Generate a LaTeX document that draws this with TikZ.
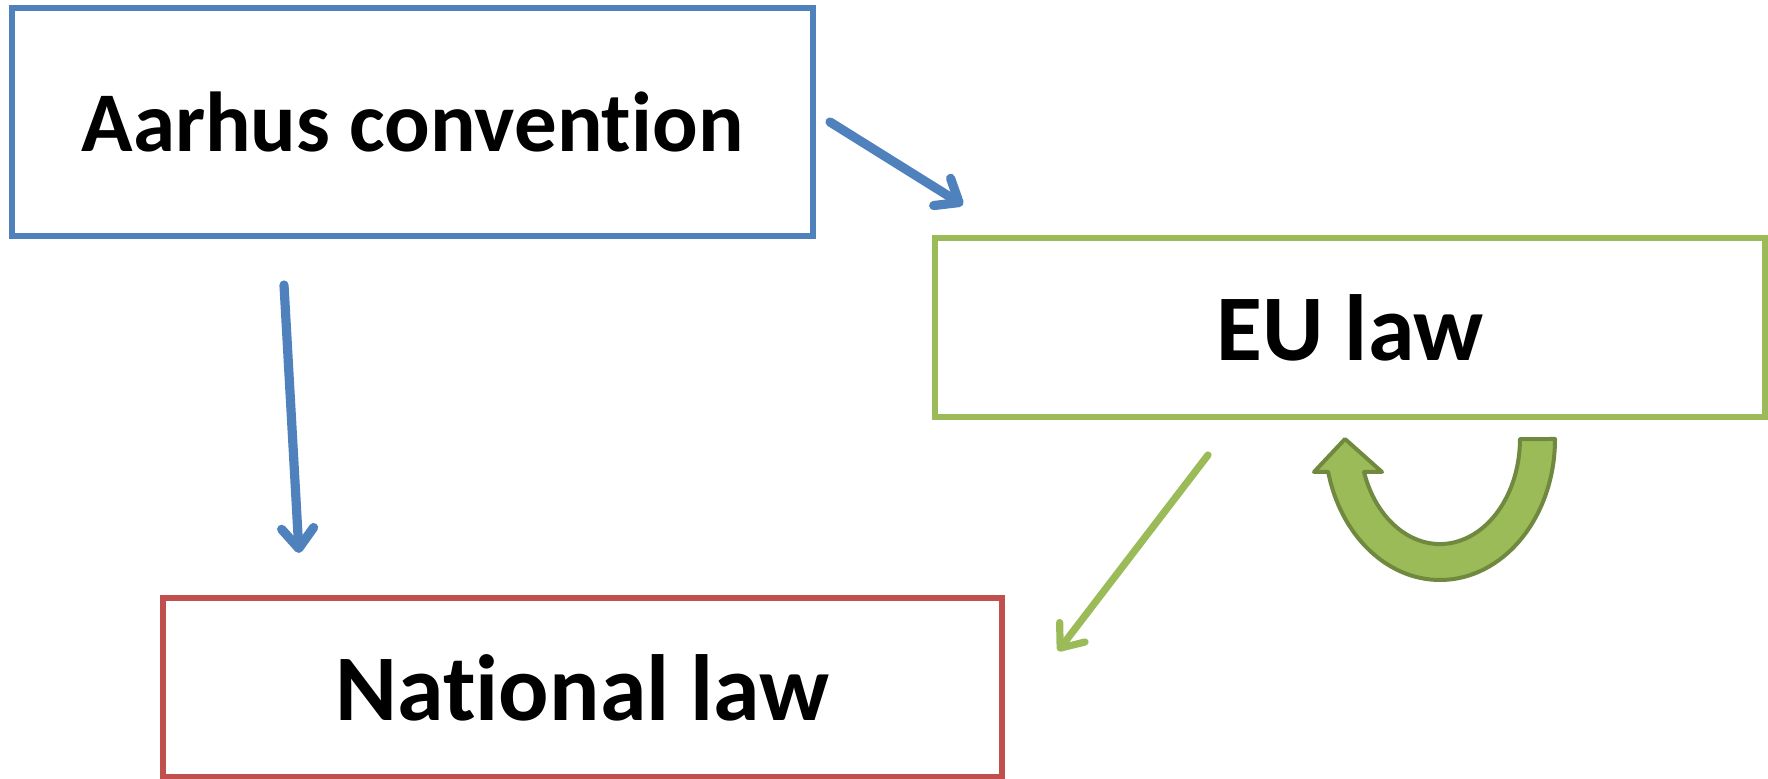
\documentclass[tikz,border=0pt]{standalone}
\usepackage{fontspec}
\setmainfont{Carlito}[Ligatures=NoCommon]
\usetikzlibrary{arrows.meta}
\definecolor{treatyblue}{HTML}{4F81BD}
\definecolor{eugreen}{HTML}{9BBB59}
\definecolor{eudark}{HTML}{71893F}
\definecolor{natred}{HTML}{C0504D}
\begin{document}
\begin{tikzpicture}[x=0.5pt,y=-0.5pt,
    lawbox/.style={draw, line width=2.6pt, minimum height=89.5pt,
      font=\fontsize{47}{56}\selectfont\bfseries},
    link/.style={line width=4.6pt, line cap=round,
      -{Straight Barb[length=10pt,width=16pt,round]}},
    loopback/.style={draw=eudark, fill=eugreen, line width=2pt, line join=round}]
    \useasboundingbox (0,0) rectangle (1768,779);

    \node[lawbox, draw=treatyblue, minimum width=400.5pt, minimum height=114pt,
      font=\fontsize{42.5}{51}\selectfont\bfseries] (aarhus) at (412.5,122) {Aarhus convention};
    \node[lawbox, draw=eugreen, minimum width=415pt] (eu) at (1350,327.5) {EU law};
    \node[lawbox, draw=natred, minimum width=419.5pt] (national) at (582.5,687.5) {National law};

    \coordinate (aarhus-eu-s) at (830,122);
    \coordinate (aarhus-eu-t) at (963,205);
    \coordinate (aarhus-nat-s) at (284,285);
    \coordinate (aarhus-nat-t) at (299,553);
    \coordinate (eu-nat-s) at (1208,455);
    \coordinate (eu-nat-t) at (1058,651);

    \draw[link, treatyblue] (aarhus-eu-s) to (aarhus-eu-t);
    \draw[link, treatyblue] (aarhus-nat-s) to (aarhus-nat-t);
    \draw[link, eugreen, line width=3.6pt] (eu-nat-s) to (eu-nat-t);

    % u-turn arrow under EU law
    \draw[loopback] (1555,439) arc[start angle=0, end angle=166.5, x radius=115, y radius=141]
      -- (1314,472) -- (1345,439) -- (1382,472) -- (1364,472)
      arc[start angle=161.7, end angle=0, x radius=80, y radius=105] -- cycle;
\end{tikzpicture}
\end{document}
